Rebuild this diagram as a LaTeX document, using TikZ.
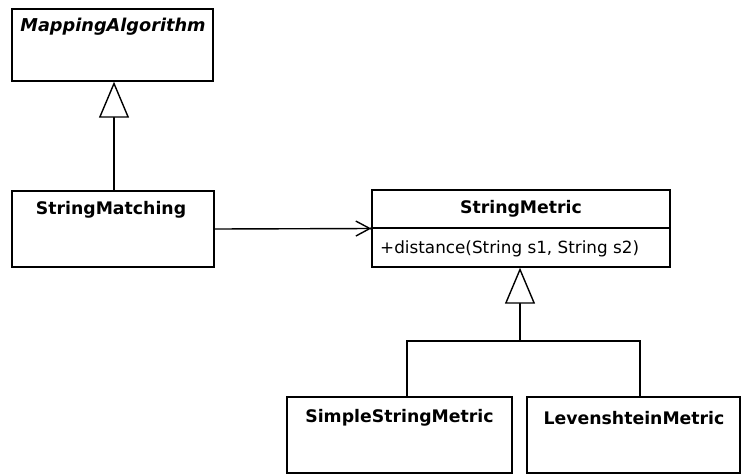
\documentclass[tikz,border=0pt]{standalone}
\usepackage{fontspec}
\setmainfont{DejaVu Sans}
\usetikzlibrary{arrows.meta}
\begin{document}
\begin{tikzpicture}[x=1pt,y=-1pt,
  box/.style={draw=black,line width=1.4pt,rectangle,inner sep=0pt},
  cname/.style={font=\fontsize{17.3}{20}\selectfont\bfseries,inner sep=0pt},
  aname/.style={font=\fontsize{17.7}{20}\selectfont\bfseries\itshape,inner sep=0pt},
  member/.style={font=\fontsize{16.8}{20}\selectfont,inner sep=0pt,anchor=west},
  conn/.style={draw=black,line width=1.4pt},
  gen/.style={conn,-{Triangle[open,length=36pt,width=30pt,fill=white]}},
  assoc/.style={conn,-{Straight Barb[length=14pt,width=15pt,line width=1.4pt]}}
]
\useasboundingbox (0,0) rectangle (741,474);

% MappingAlgorithm
\node[box,minimum width=201pt,minimum height=72pt] (ma) at (112.5,45) {};
\node[aname] (mat) at (113,27) {MappingAlgorithm};

% StringMatching
\node[box,minimum width=202pt,minimum height=76pt] (sm) at (113,229) {};
\node[cname] (smt) at (111,210) {StringMatching};

% StringMetric
\node[box,minimum width=298pt,minimum height=77pt] (smet) at (521,228.5) {};
\node[cname] (smett) at (521,209) {StringMetric};
\coordinate (divl) at (372,228);
\coordinate (divr) at (670,228);
\draw[conn] (divl) -- (divr);
\node[member] (smetm) at (380,249) {+distance(String s1, String s2)};

% SimpleStringMetric
\node[box,minimum width=225pt,minimum height=76pt] (ssm) at (399.5,435) {};
\node[cname] (ssmt) at (399.5,418) {SimpleStringMetric};

% LevenshteinMetric
\node[box,minimum width=213pt,minimum height=76pt] (lm) at (633.5,435) {};
\node[cname] (lmt) at (634,418) {LevenshteinMetric};

% generalisation StringMatching -> MappingAlgorithm
\draw[gen] ([xshift=1pt]sm.north) -- ([xshift=1.5pt]ma.south);

% association StringMatching -> StringMetric
\draw[assoc] (sm.east) -- (smet.west);
\fill (smet.west) circle (1.8pt);

% generalisation subclasses -> StringMetric
\coordinate (j) at (520,341);
\draw[conn] ([xshift=7.5pt]ssm.north) |- (j) -| ([xshift=6.5pt]lm.north);
\draw[gen] (j) -- (j |- smet.south);
\end{tikzpicture}
\end{document}
